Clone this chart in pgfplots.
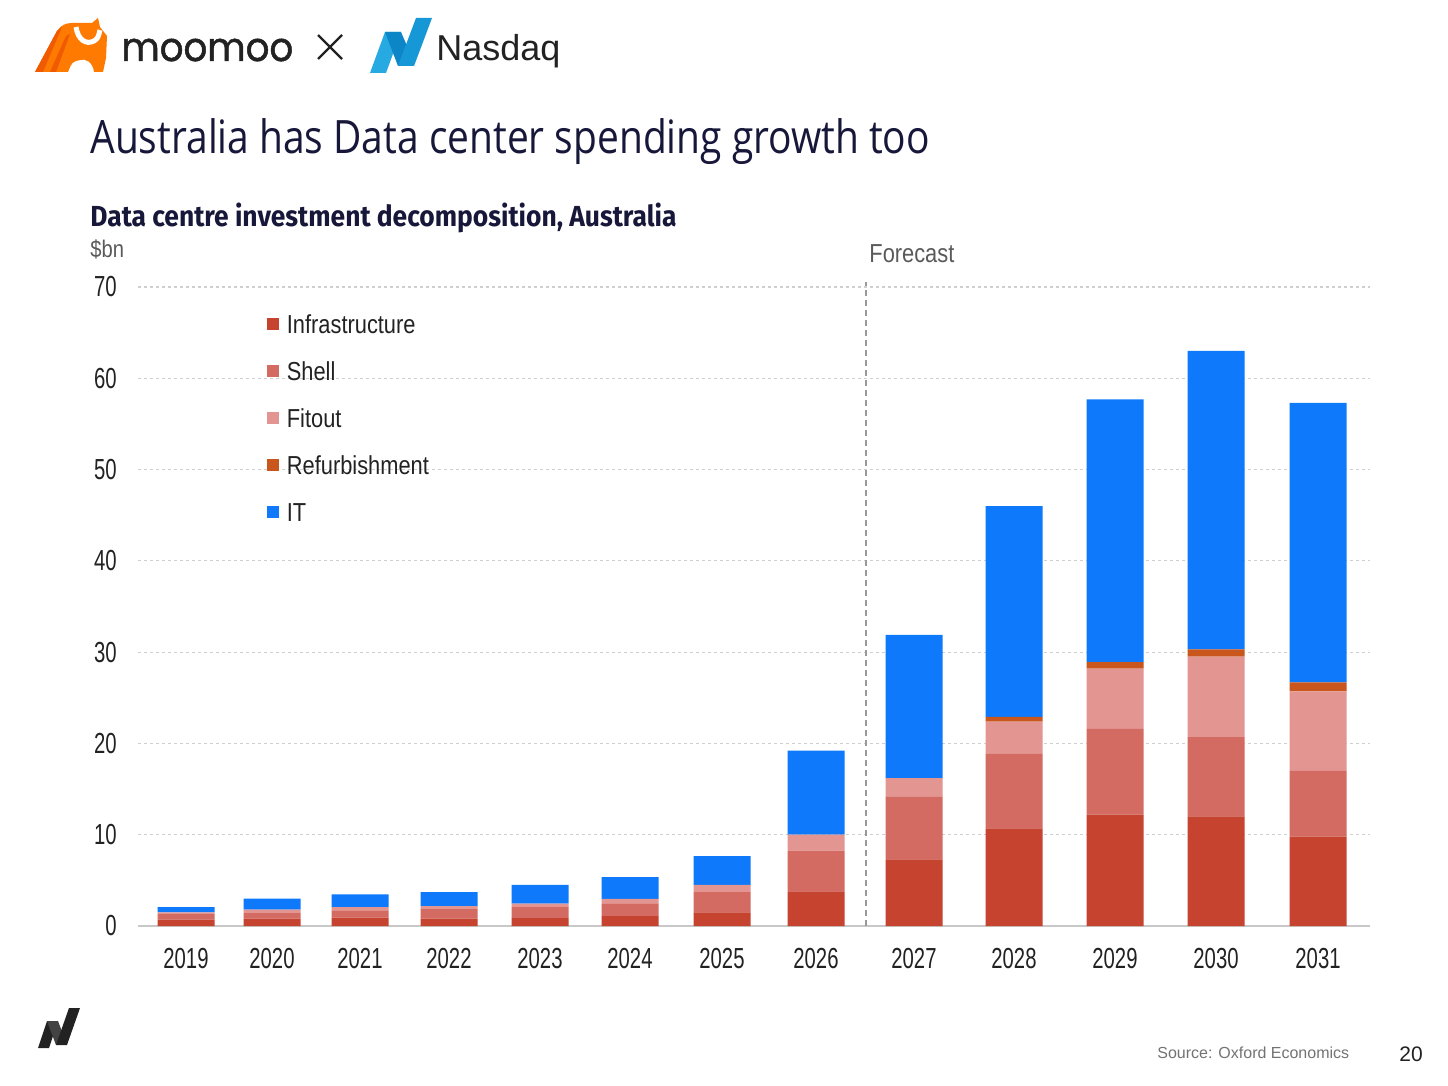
\documentclass[border=0pt]{standalone}
\usepackage{pgfplots}
\usepackage{pgfplotstable}
\pgfplotsset{compat=1.18}
\usepackage{fontspec}
\setmainfont{Liberation Sans}
\newfontfamily\titlefont[FakeStretch=0.846]{Open Sans}
\newfontfamily\subfont[FakeStretch=0.91]{Fira Sans}
\newfontfamily\chartfont[FakeStretch=0.84]{Liberation Sans}
\newfontfamily\digitfont[FakeStretch=0.7]{Liberation Sans}
\newfontfamily\logofont[FakeStretch=0.93,FakeBold=1.2]{Poppins}

\definecolor{infra}{HTML}{C5432F}
\definecolor{shell}{HTML}{D46B63}
\definecolor{fitout}{HTML}{E39592}
\definecolor{refurb}{HTML}{C9561C}
\definecolor{itblue}{HTML}{0E7AFB}
\definecolor{titlecol}{HTML}{17173A}
\definecolor{txt}{HTML}{222222}
\definecolor{soft}{HTML}{5A5A5A}
\definecolor{gridc}{HTML}{CFCFCF}
\definecolor{basec}{HTML}{C8C8C8}
\definecolor{moo}{HTML}{FF7A00}
\definecolor{moodark}{HTML}{F05A00}
\definecolor{nasA}{HTML}{27A9E1}
\definecolor{nasB}{HTML}{0C86C6}
\definecolor{nasC}{HTML}{1698D6}

% Data centre investment, $bn, by component (bottom to top of each stack)
\pgfplotstableread{
x     year infra shell fitout refurb it
1.86  2019 0.70  0.60  0.20   0.00   0.56
2.72  2020 0.80  0.60  0.40   0.00   1.20
3.60  2021 0.93  0.77  0.36   0.00   1.40
4.49  2022 0.80  1.04  0.33   0.00   1.53
5.40  2023 0.85  1.21  0.40   0.00   2.04
6.30  2024 1.07  1.36  0.55   0.00   2.37
7.22  2025 1.50  2.20  0.80   0.00   3.15
8.16  2026 3.80  4.45  1.75   0.00   9.20
9.14  2027 7.30  6.90  2.00   0.00   15.70
10.14 2028 10.70 8.20  3.50   0.50   23.10
11.15 2029 12.20 9.40  6.60   0.70   28.80
12.16 2030 12.00 8.70  8.80   0.80   32.70
13.18 2031 9.80  7.20  8.70   1.00   30.60
}\datatable

\pgfplotsset{
  sqleg/.style={legend image code/.code={\fill[##1,draw=none] (0pt,-0.8pt) rectangle (6pt,5.2pt);}}
}

\begin{document}
\begin{tikzpicture}
% ---- page furniture, in pixel units with y downwards ----
\begin{scope}[x=0.5pt,y=-0.5pt]
  \fill[white] (0,0) rectangle (1448,1086);
  \useasboundingbox (0,0) rectangle (1448,1086);

  % moomoo mark
  \fill[moo] (35,72) -- (57,31) .. controls (61,25) and (66,23) .. (72,23) -- (92,23)
     .. controls (95,21) .. (98,18) -- (100,27) .. controls (104,31) .. (107,36)
     -- (106,58) -- (103,72) -- (94,72) .. controls (93,62) and (85,58) .. (80,60)
     .. controls (72,62) .. (68,72) -- cycle;
  \fill[moodark] (35,72) -- (57,31) -- (62,27) -- (43,72) -- cycle;
  \fill[moodark] (50,72) -- (66,36) -- (70,34) -- (56,72) -- cycle;
  \draw[white, line width=2.5] (76,27) .. controls (78,40) and (86,45) .. (94,41)
     .. controls (98,38) .. (100,30);
  \node[anchor=base west, inner sep=0, text=txt,
        font=\logofont\fontsize{20}{23}\selectfont] at (121,61) {moomoo};

  % cross
  \draw[txt, line width=1.1] (318,35) -- (342,59) (342,35) -- (318,59);

  % Nasdaq mark
  \fill[nasA] (370,73) -- (386,73) -- (401,32) -- (385,32) -- cycle;
  \fill[nasB] (385,32) -- (401,32) -- (414,62) -- (398,66) -- cycle;
  \fill[nasC] (398,66) -- (414,66) -- (432,18) -- (416,18) -- cycle;
  \node[anchor=base west, inner sep=0, text=txt,
        font=\fontsize{18}{20}\selectfont] at (436,61) {Nasdaq};

  % small mark, lower left
  \fill[txt] (38,1048) -- (49,1048) -- (58,1021) -- (47,1021) -- cycle;
  \fill[txt!85] (47,1021) -- (58,1021) -- (66,1042) -- (56,1045) -- cycle;
  \fill[txt] (56,1045) -- (67,1045) -- (80,1008) -- (69,1008) -- cycle;

  % headings
  \node[anchor=base west, inner sep=0, text=titlecol,
        font=\titlefont\fontsize{23}{27}\selectfont] at (90,154)
        {Australia has Data center spending growth too};
  \node[anchor=base west, inner sep=0, text=titlecol,
        font=\subfont\bfseries\fontsize{14.5}{17}\selectfont] at (90,227)
        {Data centre investment decomposition, Australia};
  \node[anchor=base west, inner sep=0, text=soft,
        font=\chartfont\fontsize{12}{14}\selectfont] at (90,257) {\$bn};
  \node[anchor=base west, inner sep=0, text=soft,
        font=\chartfont\fontsize{13}{15}\selectfont] at (869,263) {Forecast};

  % footer
  \node[anchor=base west, inner sep=0, text=black!55,
        font=\fontsize{8}{10}\selectfont] at (1157,1058) {Source: Oxford Economics};
  \node[anchor=base west, inner sep=0, text=txt,
        font=\fontsize{10.5}{12}\selectfont] at (1399,1061) {20};
\end{scope}

% ---- chart ----
\begin{axis}[
  at={(69pt,-463pt)}, anchor=south west,
  scale only axis, width=616pt, height=319.5pt,
  xmin=1.38, xmax=13.70, ymin=0, ymax=70,
  ybar stacked, bar width=0.57,
  clip=false,
  axis x line*=bottom, axis y line*=left,
  x axis line style={draw=basec, line width=1pt},
  y axis line style={draw=none},
  tick style={draw=none},
  /pgf/number format/assume math mode=true,
  xtick={1.86,2.72,3.60,4.49,5.40,6.30,7.22,8.16,9.14,10.14,11.15,12.16,13.18},
  xticklabels={2019,2020,2021,2022,2023,2024,2025,2026,2027,2028,2029,2030,2031},
  ytick={0,10,...,70},
  ymajorgrids,
  grid style={draw=gridc, line width=0.6pt, dash pattern=on 1.5pt off 1.5pt},
  xticklabel style={font=\digitfont\fontsize{14.5}{16}\selectfont, text=txt,
                    anchor=north, inner sep=0pt, yshift=-11pt},
  yticklabel style={font=\digitfont\fontsize{14.5}{16}\selectfont, text=txt,
                    anchor=east, inner sep=0pt, xshift=-10.5pt},
  legend cell align=left,
  legend style={at={(0.1043,0.957)}, anchor=north west, draw=none, fill=none,
                inner sep=0pt, row sep=9.4pt, column sep=2pt,
                font=\chartfont\fontsize{13}{15}\selectfont, text=txt,
                nodes={inner sep=2pt, text height=0.75em, text depth=0.25em}},
]
\addplot[fill=infra, draw=none, sqleg] table[x=x, y=infra] {\datatable};
\addlegendentry{Infrastructure}
\addplot[fill=shell, draw=none, sqleg] table[x=x, y=shell] {\datatable};
\addlegendentry{Shell}
\addplot[fill=fitout, draw=none, sqleg] table[x=x, y=fitout] {\datatable};
\addlegendentry{Fitout}
\addplot[fill=refurb, draw=none, sqleg] table[x=x, y=refurb] {\datatable};
\addlegendentry{Refurbishment}
\addplot[fill=itblue, draw=none, sqleg] table[x=x, y=it] {\datatable};
\addlegendentry{IT}

% start of the forecast period
\draw[draw=black!40, line width=0.6pt, dash pattern=on 3pt off 2pt]
  (axis cs:8.66,0) -- (axis cs:8.66,70.5);
\end{axis}
\end{tikzpicture}
\end{document}
